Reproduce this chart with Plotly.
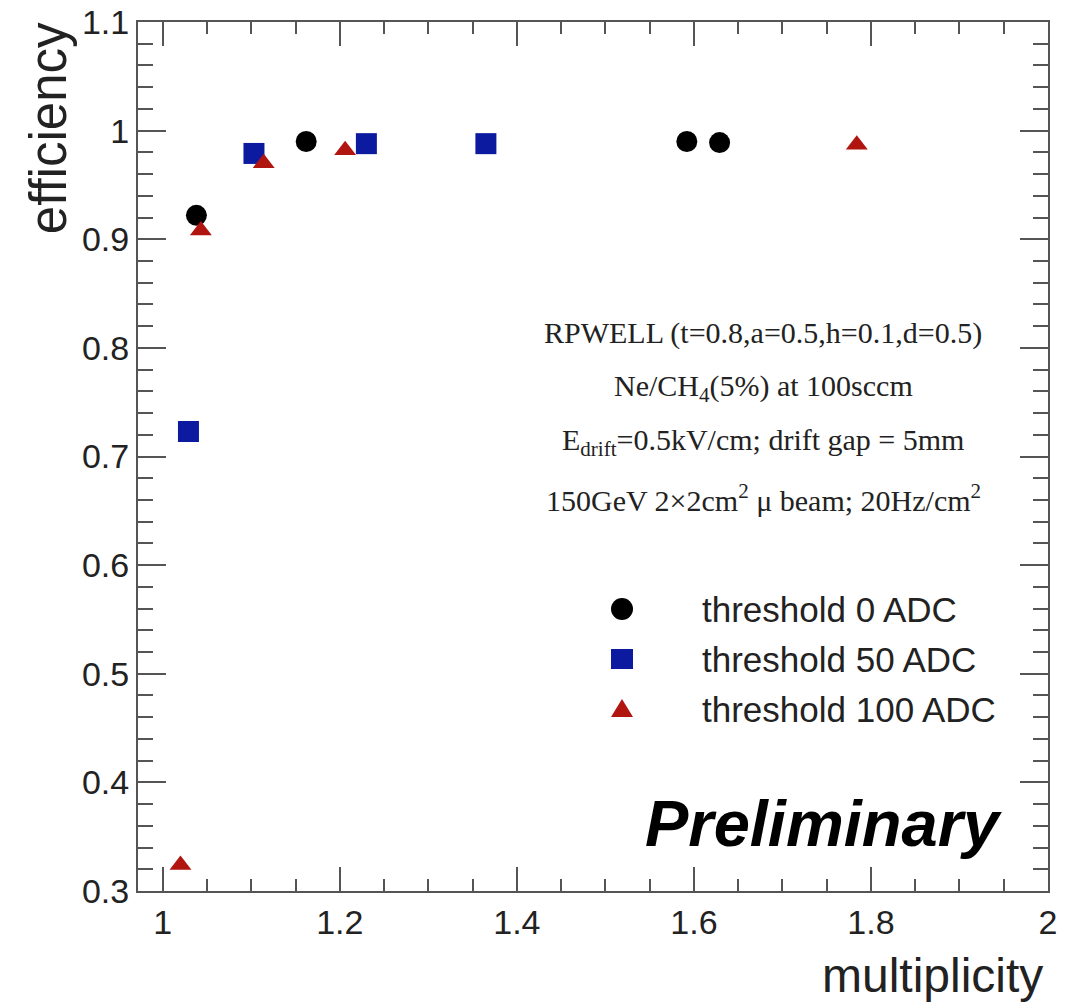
import plotly.graph_objects as go

# threshold 0 ADC
x_thr0 = [1.038, 1.162, 1.592, 1.629]
y_thr0 = [0.922, 0.990, 0.990, 0.989]
# threshold 50 ADC
x_thr50 = [1.029, 1.103, 1.230, 1.365]
y_thr50 = [0.723, 0.979, 0.988, 0.988]
# threshold 100 ADC
x_thr100 = [1.020, 1.043, 1.114, 1.206, 1.784]
y_thr100 = [0.324, 0.908, 0.970, 0.982, 0.987]

series_names = ["threshold 0 ADC", "threshold 50 ADC", "threshold 100 ADC"]
colors = ["black", "#0c1aa0", "#b01510"]

y_tickvals = [0.3, 0.4, 0.5, 0.6, 0.7, 0.8, 0.9, 1.0, 1.1]
y_ticktext = ["0.3", "0.4", "0.5", "0.6", "0.7", "0.8", "0.9", "1", "1.1"]

fig = go.Figure()
fig.add_trace(go.Scatter(x=x_thr0, y=y_thr0, mode="markers", name=series_names[0], showlegend=False,
                         marker=dict(symbol="circle", size=21, color=colors[0])))
fig.add_trace(go.Scatter(x=x_thr50, y=y_thr50, mode="markers", name=series_names[1], showlegend=False,
                         marker=dict(symbol="square", size=21, color=colors[1])))
fig.add_trace(go.Scatter(x=x_thr100, y=y_thr100, mode="markers", name=series_names[2], showlegend=False,
                         marker=dict(symbol="triangle-up", size=19, color=colors[2])))

axis_common = dict(
    showline=True, linecolor="#555555", linewidth=2, mirror="allticks",
    ticks="inside", tickcolor="#555555", tickwidth=2,
    showgrid=False, zeroline=False, automargin=False,
    tickfont=dict(family="Liberation Sans, Arial", size=34, color="#222222"),
)

fig.update_xaxes(range=[0.972, 2.0], tick0=1, dtick=0.2, ticklen=24,
                 minor=dict(dtick=0.05, tick0=1, ticks="inside", ticklen=12,
                            tickcolor="#555555", tickwidth=2, showgrid=False),
                 **axis_common)
fig.update_yaxes(range=[0.3, 1.1], ticklen=28,
                 tickvals=y_tickvals, ticktext=y_ticktext,
                 minor=dict(dtick=0.02, tick0=0.3, ticks="inside", ticklen=15,
                            tickcolor="#555555", tickwidth=2, showgrid=False),
                 **axis_common)

serif = "Liberation Serif, Times New Roman, serif"
sans = "Liberation Sans, Arial, sans-serif"
info_lines = [
    "RPWELL (t=0.8,a=0.5,h=0.1,d=0.5)",
    "Ne/CH<sub>4</sub>(5%) at 100sccm",
    "E<sub>drift</sub>=0.5kV/cm; drift gap = 5mm",
    "150GeV 2×2cm<sup>2</sup> μ beam; 20Hz/cm<sup>2</sup>",
]
info_y = [0.642, 0.579, 0.517, 0.452]
annotations = []
for t, yy in zip(info_lines, info_y):
    annotations.append(dict(text=t, x=0.687, y=yy, xref="paper", yref="paper",
                            xanchor="center", yanchor="middle", showarrow=False,
                            font=dict(family=serif, size=30, color="#222222")))
annotations.append(dict(text="<b><i>Preliminary</i></b>", x=0.952, y=0.078, xref="paper", yref="paper",
                        xanchor="right", yanchor="middle", showarrow=False,
                        font=dict(family=sans, size=65, color="black")))
annotations.append(dict(text="multiplicity", x=0.997, y=-0.097, xref="paper", yref="paper",
                        xanchor="right", yanchor="middle", showarrow=False,
                        font=dict(family=sans, size=48, color="#222222")))
annotations.append(dict(text="efficiency", x=-0.099, y=1.002, xref="paper", yref="paper",
                        xanchor="center", yanchor="top", textangle=-90, showarrow=False,
                        font=dict(family=sans, size=51, color="#222222")))

# manual legend (paper coordinates)
leg_x_marker = (622 - 138) / 910
leg_x_text = (700 - 138) / 910
leg_rows = [(891 - 609) / 869, (891 - 659) / 869, (891 - 709) / 869]
for name, yy in zip(series_names, leg_rows):
    annotations.append(dict(text=name, x=leg_x_text, y=yy, xref="paper", yref="paper",
                            xanchor="left", yanchor="middle", showarrow=False,
                            font=dict(family=sans, size=35, color="#222222")))

shapes = [
    dict(type="circle", xref="paper", yref="paper", xsizemode="pixel", ysizemode="pixel",
         xanchor=leg_x_marker, yanchor=leg_rows[0], x0=-11, x1=11, y0=-11, y1=11,
         fillcolor=colors[0], line=dict(width=0)),
    dict(type="rect", xref="paper", yref="paper", xsizemode="pixel", ysizemode="pixel",
         xanchor=leg_x_marker, yanchor=leg_rows[1], x0=-11, x1=11, y0=-10, y1=10,
         fillcolor=colors[1], line=dict(width=0)),
    dict(type="path", xref="paper", yref="paper", xsizemode="pixel", ysizemode="pixel",
         xanchor=leg_x_marker, yanchor=leg_rows[2], path="M -11,-8 L 11,-8 L 0,10 Z",
         fillcolor=colors[2], line=dict(width=0)),
]

fig.update_layout(
    width=1066, height=1002,
    margin=dict(l=138, r=18, t=22, b=111),
    paper_bgcolor="white", plot_bgcolor="white",
    showlegend=False,
    annotations=annotations,
    shapes=shapes,
)

fig.write_html("out.html")
